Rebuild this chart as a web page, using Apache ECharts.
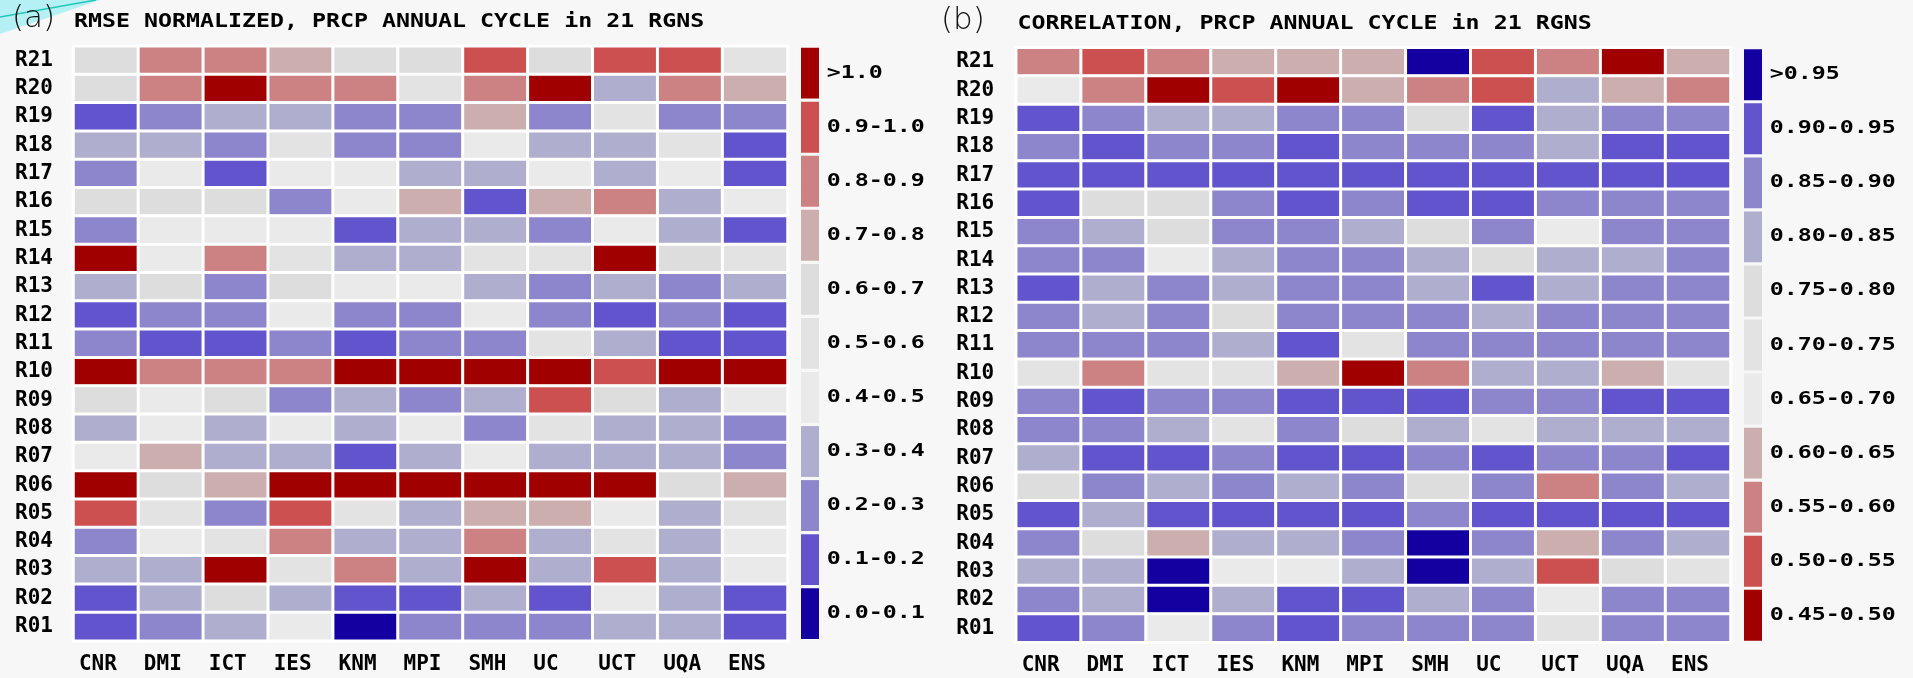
<!DOCTYPE html>
<html>
<head>
<meta charset="utf-8">
<script src="https://cdn.jsdelivr.net/npm/echarts@6/dist/echarts.min.js"></script>
<style>
html,body{margin:0;padding:0;background:#f7f7f7;}
#chart{width:1913px;height:678px;}
</style>
</head>
<body>
<div id="chart"></div>
<script>
// ---------------- data ----------------
const models = ['CNR','DMI','ICT','IES','KNM','MPI','SMH','UC','UCT','UQA','ENS'];
const regions = ['R21','R20','R19','R18','R17','R16','R15','R14','R13','R12','R11','R10','R09','R08','R07','R06','R05','R04','R03','R02','R01'];

const titleA = 'RMSE NORMALIZED, PRCP ANNUAL CYCLE in 21 RGNS';
const titleB = 'CORRELATION, PRCP ANNUAL CYCLE in 21 RGNS';

// RMSE (normalized), rows top (R21) to bottom (R01), columns = models
const rmse = [
  [0.65,0.85,0.85,0.75,0.65,0.65,0.95,0.65,0.95,0.95,0.55],
  [0.65,0.85,1.10,0.85,0.85,0.55,0.85,1.10,0.35,0.85,0.75],
  [0.15,0.25,0.35,0.35,0.25,0.25,0.75,0.25,0.55,0.25,0.25],
  [0.35,0.35,0.25,0.55,0.25,0.25,0.45,0.35,0.35,0.55,0.15],
  [0.25,0.45,0.15,0.45,0.45,0.35,0.35,0.45,0.35,0.45,0.15],
  [0.65,0.65,0.65,0.25,0.45,0.75,0.15,0.75,0.85,0.35,0.45],
  [0.25,0.45,0.45,0.45,0.15,0.35,0.35,0.25,0.45,0.35,0.15],
  [1.10,0.45,0.85,0.55,0.35,0.35,0.55,0.55,1.10,0.65,0.55],
  [0.35,0.65,0.25,0.65,0.45,0.45,0.35,0.25,0.35,0.25,0.35],
  [0.15,0.25,0.25,0.45,0.25,0.25,0.45,0.25,0.15,0.25,0.15],
  [0.25,0.15,0.15,0.25,0.15,0.25,0.25,0.55,0.35,0.15,0.15],
  [1.10,0.85,0.85,0.85,1.10,1.10,1.10,1.10,0.95,1.10,1.10],
  [0.65,0.45,0.65,0.25,0.35,0.25,0.35,0.95,0.65,0.35,0.45],
  [0.35,0.45,0.35,0.45,0.35,0.45,0.25,0.55,0.35,0.35,0.25],
  [0.45,0.75,0.35,0.35,0.15,0.35,0.45,0.35,0.35,0.35,0.25],
  [1.10,0.65,0.75,1.10,1.10,1.10,1.10,1.10,1.10,0.65,0.75],
  [0.95,0.55,0.25,0.95,0.55,0.35,0.75,0.75,0.45,0.35,0.55],
  [0.25,0.45,0.55,0.85,0.35,0.35,0.85,0.35,0.55,0.35,0.45],
  [0.35,0.35,1.10,0.55,0.85,0.35,1.10,0.35,0.95,0.35,0.45],
  [0.15,0.35,0.65,0.35,0.15,0.15,0.35,0.15,0.45,0.35,0.15],
  [0.15,0.25,0.35,0.45,0.05,0.25,0.25,0.25,0.35,0.35,0.15]
];

// Correlation, rows top (R21) to bottom (R01)
const corr = [
  [0.575,0.525,0.575,0.625,0.625,0.625,0.975,0.525,0.575,0.475,0.625],
  [0.675,0.575,0.475,0.525,0.475,0.625,0.575,0.525,0.825,0.625,0.575],
  [0.925,0.875,0.825,0.825,0.875,0.875,0.775,0.925,0.825,0.875,0.875],
  [0.875,0.925,0.875,0.875,0.925,0.875,0.875,0.875,0.825,0.925,0.925],
  [0.925,0.925,0.925,0.925,0.925,0.925,0.925,0.925,0.925,0.925,0.925],
  [0.925,0.775,0.775,0.875,0.925,0.875,0.925,0.925,0.875,0.875,0.875],
  [0.875,0.825,0.775,0.875,0.875,0.825,0.775,0.875,0.675,0.875,0.875],
  [0.875,0.875,0.675,0.825,0.875,0.875,0.825,0.775,0.825,0.825,0.875],
  [0.925,0.825,0.875,0.825,0.875,0.875,0.825,0.925,0.825,0.875,0.875],
  [0.875,0.825,0.875,0.775,0.875,0.875,0.875,0.825,0.875,0.875,0.875],
  [0.875,0.875,0.875,0.825,0.925,0.725,0.875,0.875,0.875,0.875,0.875],
  [0.725,0.575,0.725,0.725,0.625,0.475,0.575,0.825,0.825,0.625,0.725],
  [0.875,0.925,0.875,0.875,0.925,0.925,0.925,0.875,0.875,0.925,0.925],
  [0.875,0.875,0.825,0.725,0.875,0.775,0.825,0.725,0.825,0.825,0.825],
  [0.825,0.925,0.925,0.875,0.925,0.925,0.875,0.925,0.875,0.875,0.925],
  [0.775,0.875,0.825,0.875,0.825,0.875,0.775,0.875,0.575,0.875,0.825],
  [0.925,0.825,0.925,0.925,0.925,0.925,0.875,0.925,0.925,0.925,0.925],
  [0.875,0.775,0.625,0.825,0.825,0.875,0.975,0.875,0.625,0.875,0.825],
  [0.825,0.825,0.975,0.675,0.675,0.825,0.975,0.825,0.525,0.775,0.725],
  [0.875,0.825,0.975,0.825,0.925,0.925,0.825,0.875,0.675,0.875,0.875],
  [0.925,0.875,0.675,0.875,0.925,0.875,0.875,0.875,0.725,0.875,0.875]
];

// bins (ascending lower bounds), colours and legend labels
const rmseBinLows = [0.0,0.1,0.2,0.3,0.4,0.5,0.6,0.7,0.8,0.9,1.0];
const rmseColors  = ['#1400A0','#6254CC','#8E86CC','#B0AECE','#EAEAEA','#E3E3E3','#DDDDDD','#CCAEAE','#CC8282','#CC5050','#A00000'];
const rmseLabels  = ['0.0-0.1','0.1-0.2','0.2-0.3','0.3-0.4','0.4-0.5','0.5-0.6','0.6-0.7','0.7-0.8','0.8-0.9','0.9-1.0','>1.0'];

const corrBinLows = [0.45,0.50,0.55,0.60,0.65,0.70,0.75,0.80,0.85,0.90,0.95];
const corrColors  = ['#A00000','#CC5050','#CC8282','#CCAEAE','#EAEAEA','#E3E3E3','#DDDDDD','#B0AECE','#8E86CC','#6254CC','#1400A0'];
const corrLabels  = ['0.45-0.50','0.50-0.55','0.55-0.60','0.60-0.65','0.65-0.70','0.70-0.75','0.75-0.80','0.80-0.85','0.85-0.90','0.90-0.95','>0.95'];

// ---------------- build ----------------
function toCells(mat){
  const out = [];
  mat.forEach((row, r) => row.forEach((v, c) => out.push([c, r, v])));
  return out;
}
function pieces(lows, colors){
  return lows.map((lo, i) => i < lows.length - 1
    ? {gte: lo, lt: lows[i+1], color: colors[i]}
    : {gte: lo, color: colors[i]});
}

const MONO = 'DejaVu Sans Mono';
const grids = [
  {left: 73.5, top: 46.2, width: 714, height: 594.6},
  {left: 1016.2, top: 47.8, width: 714.3, height: 594.4}
];

function xAxisFor(i){
  return {
    type: 'category', gridIndex: i, data: models, position: 'bottom',
    axisLine: {show: false}, axisTick: {show: false}, splitLine: {show: false},
    axisLabel: {color: '#000', fontFamily: MONO, fontWeight: 'bold', fontSize: 21,
                margin: 13, align: 'left', padding: [0, 0, 0, -27]}
  };
}
function yAxisFor(i, margin){
  return {
    type: 'category', gridIndex: i, data: regions, inverse: true,
    axisLine: {show: false}, axisTick: {show: false}, splitLine: {show: false},
    axisLabel: {color: '#000', fontFamily: MONO, fontWeight: 'bold', fontSize: 21, margin: margin}
  };
}

function legendGraphics(x, top, colors, labels){
  const pitch = 54.05, h = 50.9, n = colors.length;
  const g = [];
  for (let k = 0; k < n; k++){
    const idx = n - 1 - k; // top = highest bin
    const y = top + k * pitch;
    g.push({type: 'rect', shape: {x: x, y: y, width: 18, height: h},
            style: {fill: colors[idx]}, silent: true});
    g.push({type: 'text', x: x + 25.7, y: y + h / 2, scaleX: 1.33, silent: true,
            style: {text: labels[idx], x: 0, y: 0, fill: '#000',
                    fontFamily: MONO, fontWeight: 'bold', fontSize: 17.5,
                    align: 'left', verticalAlign: 'middle',
                    textAlign: 'left', textVerticalAlign: 'middle'}});
  }
  return g;
}
function titleGraphics(tagX, tagY, tag, tx, ty, text){
  return [
    {type: 'text', x: tagX, y: tagY, silent: true,
     style: {text: tag, x: 0, y: 0, fill: '#111', fontFamily: 'DejaVu Sans', fontWeight: 300, fontSize: 31,
             align: 'left', verticalAlign: 'middle', textAlign: 'left', textVerticalAlign: 'middle'}},
    {type: 'text', x: tx, y: ty, scaleX: 1.163, silent: true,
     style: {text: text, x: 0, y: 0, fill: '#000', fontFamily: MONO, fontWeight: 'bold', fontSize: 20,
             align: 'left', verticalAlign: 'middle', textAlign: 'left', textVerticalAlign: 'middle'}}
  ];
}

const decoration = [
  {type: 'polygon', silent: true, z: -1, shape: {points: [[0,0],[100,0],[0,34]]}, style: {fill: '#b4f0f4'}},
  {type: 'line', silent: true, z: -1, shape: {x1: 0, y1: 17, x2: 96, y2: 0}, style: {stroke: '#22c7b5', lineWidth: 1.5}}
];

const chart = echarts.init(document.getElementById('chart'), null, {renderer: 'canvas'});
chart.setOption({
  backgroundColor: '#f7f7f7',
  animation: false,
  grid: grids,
  xAxis: [xAxisFor(0), xAxisFor(1)],
  yAxis: [yAxisFor(0, 20.5), yAxisFor(1, 22)],
  visualMap: [
    {type: 'piecewise', show: false, seriesIndex: 0, dimension: 2, pieces: pieces(rmseBinLows, rmseColors)},
    {type: 'piecewise', show: false, seriesIndex: 1, dimension: 2, pieces: pieces(corrBinLows, corrColors)}
  ],
  series: [
    {type: 'heatmap', xAxisIndex: 0, yAxisIndex: 0, data: toCells(rmse),
     itemStyle: {borderColor: '#ffffff', borderWidth: 3}, emphasis: {disabled: true}},
    {type: 'heatmap', xAxisIndex: 1, yAxisIndex: 1, data: toCells(corr),
     itemStyle: {borderColor: '#ffffff', borderWidth: 3}, emphasis: {disabled: true}}
  ],
  graphic: [].concat(
    decoration,
    titleGraphics(12, 19, '(a)', 74, 22.2, titleA),
    titleGraphics(941, 21, '(b)', 1017.5, 24.2, titleB),
    legendGraphics(801, 47.7, rmseColors, rmseLabels),
    legendGraphics(1744, 49.3, corrColors, corrLabels)
  )
});
</script>
</body>
</html>
